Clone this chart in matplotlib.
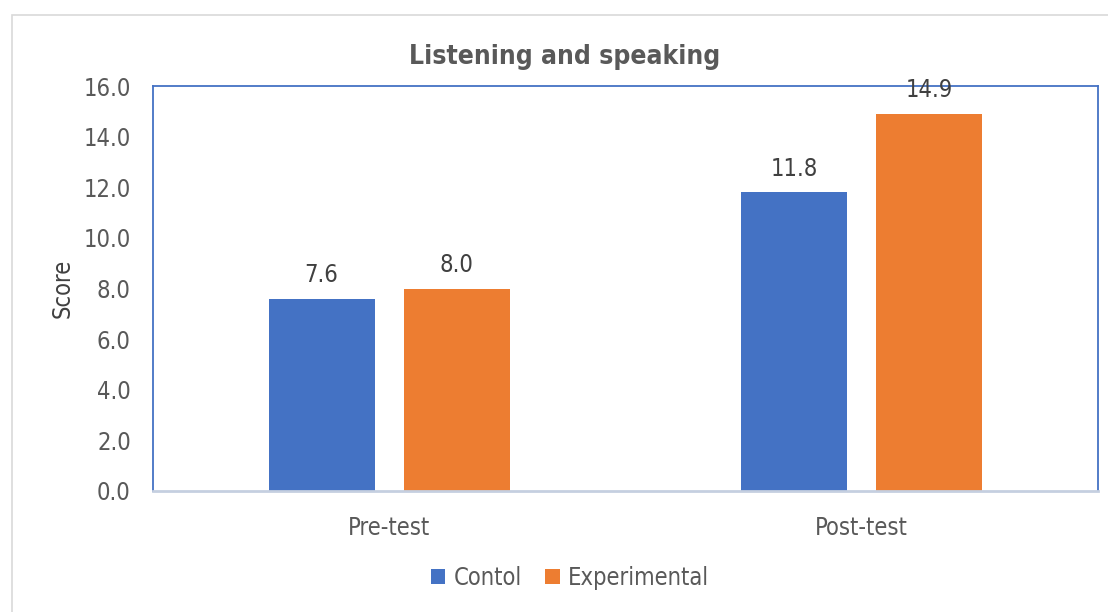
import matplotlib.pyplot as plt
from matplotlib.patches import Rectangle
import numpy as np

plt.rcParams['font.family'] = ['DejaVu Sans']
plt.rcParams['font.stretch'] = 'condensed'

categories = ['Pre-test', 'Post-test']
control = [7.6, 11.8]
experimental = [8.0, 14.9]
series_names = ['Contol', 'Experimental']
y_ticks = [0, 2, 4, 6, 8, 10, 12, 14, 16]

blue = '#4472C4'
orange = '#ED7D31'
text_grey = '#595959'

W, H = 1108, 612
fig = plt.figure(figsize=(W / 100, H / 100), dpi=100)

# light grey frame of the chart area, running off the right and bottom edges
fig.patches.append(Rectangle((12 / W, -0.05), 1.2, 1 - 15 / H + 0.05,
                             transform=fig.transFigure, fill=False,
                             edgecolor='#d9d9d9', linewidth=1.2))

ax = fig.add_axes([153 / W, 1 - 491 / H, (1098 - 153) / W, (491 - 86) / H])

x = np.arange(len(categories))
width = 0.224
offset = 0.143
b1 = ax.bar(x - offset, control, width, color=blue, label=series_names[0])
b2 = ax.bar(x + offset, experimental, width, color=orange, label=series_names[1])

for bars in (b1, b2):
    for rect in bars:
        v = rect.get_height()
        ax.text(rect.get_x() + rect.get_width() / 2, v + 0.45, f'{v:.1f}',
                ha='center', va='bottom', fontsize=17, color='#404040')

ax.set_xlim(-0.5, 1.5)
ax.set_ylim(0, 16)
ax.set_yticks(y_ticks)
ax.set_yticklabels([f'{t:.1f}' for t in y_ticks])
ax.set_xticks(x)
ax.set_xticklabels(categories)
ax.tick_params(axis='y', length=0, pad=16, labelsize=17, labelcolor=text_grey)
ax.tick_params(axis='x', length=0, pad=18, labelsize=17, labelcolor=text_grey)

for side in ('left', 'top', 'right'):
    ax.spines[side].set_color('#4472C4')
    ax.spines[side].set_linewidth(1.3)
ax.spines['bottom'].set_color('#c5cfe0')
ax.spines['bottom'].set_linewidth(2)

ax.set_ylabel('Score', fontsize=17, color='#404040', labelpad=6)
fig.text(565 / W, 1 - 57 / H, 'Listening and speaking', ha='center', va='center',
         fontsize=19, fontweight='bold', color=text_grey)

fig.legend(loc='center', bbox_to_anchor=(570 / W, 1 - 578 / H), ncol=2,
           frameon=False, fontsize=17, handlelength=0.6, handleheight=0.6,
           handletextpad=0.35, columnspacing=1.0, labelcolor=text_grey)

fig.savefig('out.png', dpi=100)
